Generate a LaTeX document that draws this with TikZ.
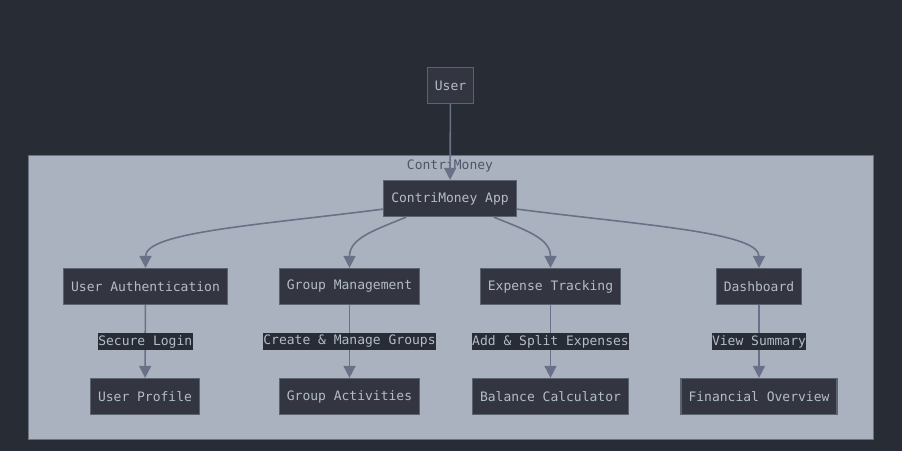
\documentclass[tikz,border=0pt]{standalone}
\usepackage{fontspec}
\setmonofont{DejaVu Sans Mono}
\usetikzlibrary{arrows.meta}
\definecolor{bgdark}{HTML}{282C34}
\definecolor{clfill}{HTML}{ABB2BF}
\definecolor{clline}{HTML}{6B7280}
\definecolor{boxfill}{HTML}{333640}
\definecolor{boxline}{HTML}{5C6370}
\definecolor{boxtext}{HTML}{B4BCCA}
\definecolor{edgecol}{HTML}{687187}
\definecolor{titlecol}{HTML}{4E5566}

\begin{document}
\begin{tikzpicture}[x=1pt,y=-1pt,
	font=\ttfamily\fontsize{13}{15}\selectfont,
	box/.style={draw=boxline,line width=1.2pt,fill=boxfill,text=boxtext,
		minimum height=36pt,inner xsep=7.5pt,inner ysep=0pt,yshift=-0.5pt},
	lbl/.style={fill=bgdark,text=boxtext,inner xsep=0.5pt,inner ysep=1pt,
		minimum height=17pt},
	edge/.style={draw=edgecol,line width=1.6pt,
		-{Triangle[width=12pt,length=12pt]}}]
	\fill[bgdark] (0,0) rectangle (902,451);
	\useasboundingbox (0,0) rectangle (902,451);
	\draw[fill=clfill,draw=clline,line width=1pt] (28,155) rectangle (873,439);
	\node[text=titlecol] (cm) at (450,166){ContriMoney};
	\node[box] (user) at (450.5,85){User};
	\node[box] (app) at (450,198){ContriMoney App};
	\node[box] (auth) at (145.5,286){User Authentication};
	\node[box] (gm) at (349.5,286){Group Management};
	\node[box] (et) at (550.5,286){Expense Tracking};
	\node[box] (dash) at (759,286){Dashboard};
	\node[box] (prof) at (145,396){User Profile};
	\node[box] (ga) at (349.5,396){Group Activities};
	\node[box] (bc) at (550.5,396){Balance Calculator};
	\node[box] (fo) at (759,396){Financial Overview};
	\draw [edge] (user) -- (app);
	\draw [edge] (app.189) .. controls (260,225) and (145.5,232) .. (auth.north);
	\draw [edge] (app.203) .. controls (375,230) and (349.5,238) .. (gm.north);
	\draw [edge] (app.337) .. controls (525,230) and (550.5,238) .. (et.north);
	\draw [edge] (app.351) .. controls (640,225) and (759,232) .. (dash.north);
	\draw [edge] (auth) -- node[lbl]{Secure Login} (prof);
	\draw [edge] (gm) -- node[lbl]{Create \& Manage Groups} (ga);
	\draw [edge] (et) -- node[lbl]{Add \& Split Expenses} (bc);
	\draw [edge] (dash) -- node[lbl]{View Summary} (fo);
\end{tikzpicture}
\end{document}
